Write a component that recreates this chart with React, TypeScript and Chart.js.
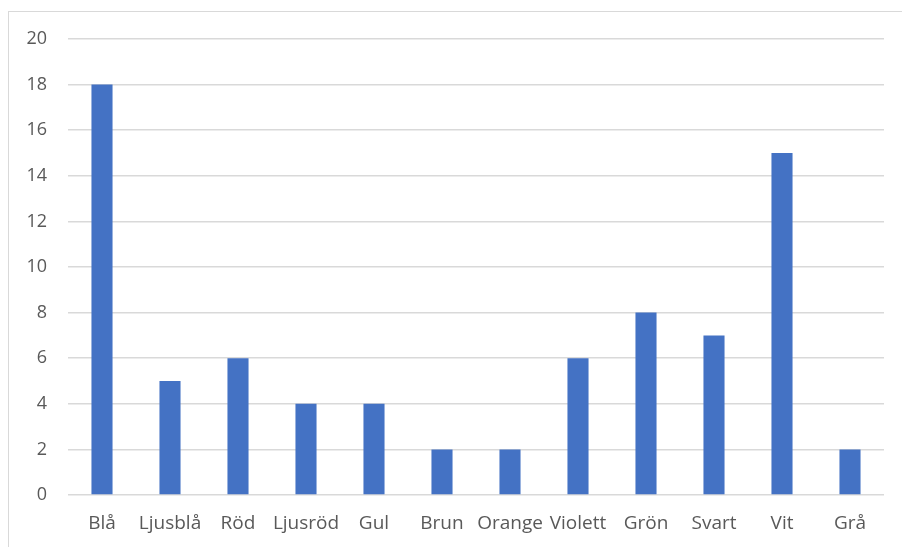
import React, { useEffect, useRef } from "react";
import { Chart, registerables } from "chart.js";

Chart.register(...registerables);

const categories = ["Blå", "Ljusblå", "Röd", "Ljusröd", "Gul", "Brun", "Orange", "Violett", "Grön", "Svart", "Vit", "Grå"];
const values = [18, 5, 6, 4, 4, 2, 2, 6, 8, 7, 15, 2];
const yMin = 0;
const yMax = 20;
const yStep = 2;

export default function App() {
  const ref = useRef<HTMLCanvasElement | null>(null);
  useEffect(() => {
    if (!ref.current) return;
    const chart = new Chart(ref.current, {
      type: "bar",
      data: {
        labels: categories,
        datasets: [
          {
            data: values,
            backgroundColor: "#4472C4",
            borderWidth: 0,
            categoryPercentage: 1,
            barPercentage: 0.31,
          },
        ],
      },
      options: {
        responsive: false,
        animation: false,
        devicePixelRatio: 1,
        layout: { padding: { top: 39, right: 18, left: 0, bottom: 0 } },
        plugins: { legend: { display: false }, tooltip: { enabled: false } },
        scales: {
          x: {
            grid: { display: false, drawTicks: false },
            border: { display: false },
            ticks: {
              color: "#595959",
              font: { family: "Open Sans", size: 19 },
              padding: 17,
              maxRotation: 0,
              autoSkip: false,
            },
            afterFit: (s: any) => {
              s.height = 52;
            },
          },
          y: {
            min: yMin,
            max: yMax,
            grid: { color: "#d9d9d9", lineWidth: 1.5, drawTicks: false },
            border: { display: false },
            ticks: {
              stepSize: yStep,
              color: "#595959",
              font: { family: "Open Sans", size: 18 },
              padding: 21,
            },
            afterFit: (s: any) => {
              s.width = 68;
            },
          },
        },
      },
    });
    return () => chart.destroy();
  }, []);
  return (
    <div style={{ position: "fixed", left: 0, top: 0, width: 902, height: 547, background: "#fff", overflow: "hidden" }}>
      <div style={{ position: "absolute", left: 8, top: 11, width: 1000, height: 1000, border: "1.5px solid #d9d9d9" }} />
      <canvas ref={ref} width={902} height={547} style={{ position: "absolute", left: 0, top: 0, width: 902, height: 547 }} />
    </div>
  );
}
